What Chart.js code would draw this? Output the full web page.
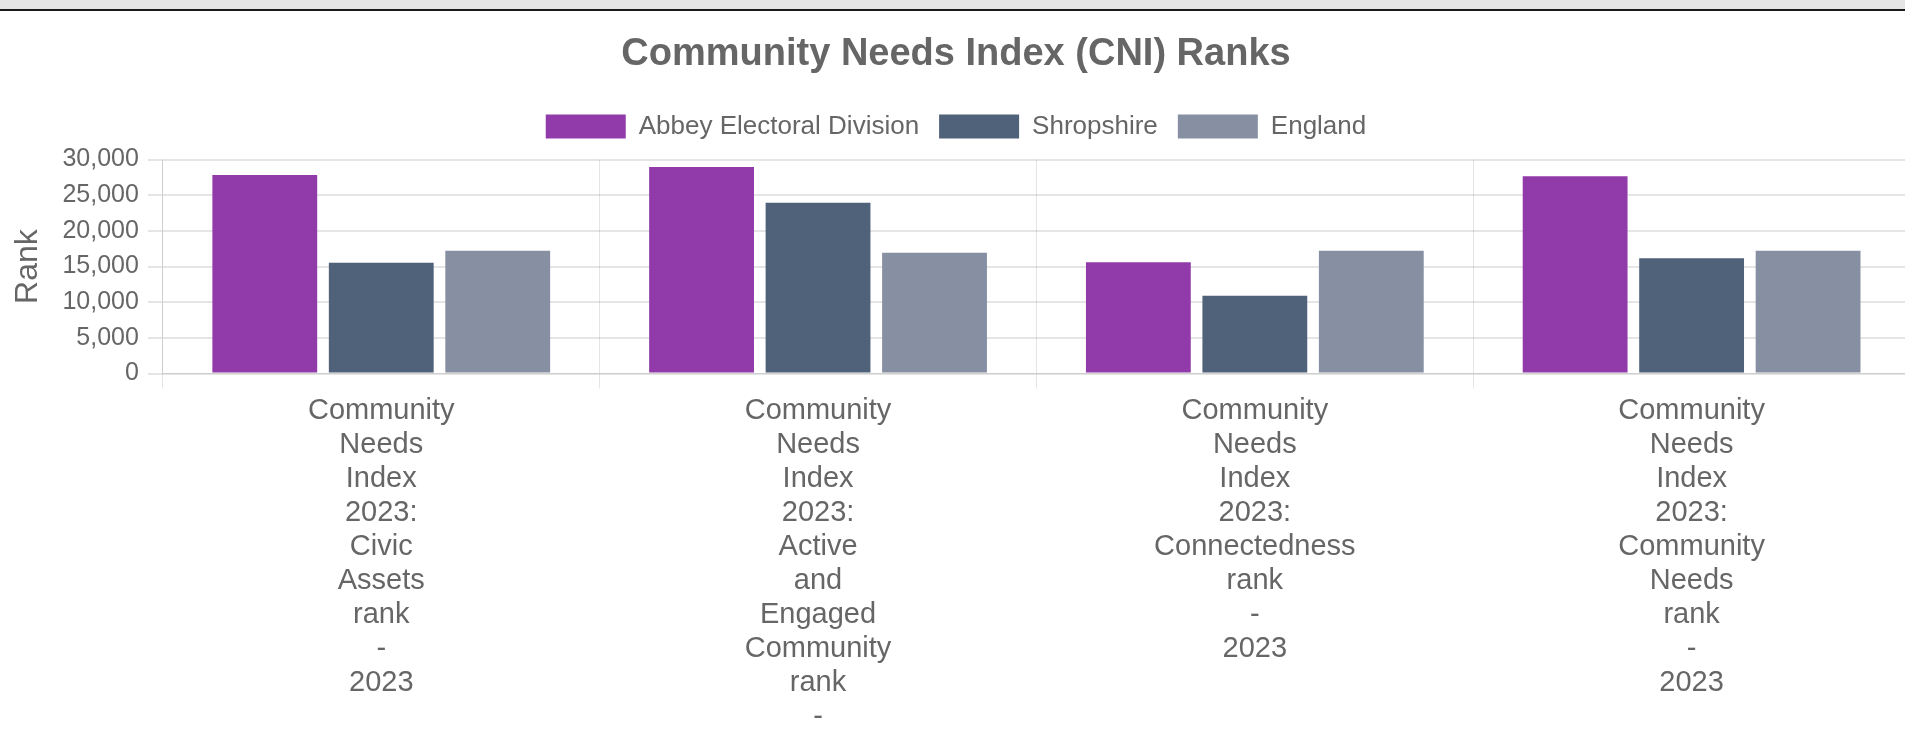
<!DOCTYPE html>
<html>
<head>
<meta charset="utf-8">
<script src="https://cdn.jsdelivr.net/npm/chart.js@4"></script>
<style>
  html, body { margin: 0; padding: 0; overflow: hidden; background: #fff; }
  #topbar { height: 9px; background: #e5e5e5; border-bottom: 2px solid #1a1a1a; }
  #wrap { position: absolute; left: 0; top: 11px; }
</style>
</head>
<body>
<div id="topbar"></div>
<div id="wrap"><canvas id="cni-chart" width="1912" height="725"></canvas></div>
<script>
const categories = [
  "Community Needs Index 2023: Civic Assets rank - 2023",
  "Community Needs Index 2023: Active and Engaged Community rank - 2023",
  "Community Needs Index 2023: Connectedness rank - 2023",
  "Community Needs Index 2023: Community Needs rank - 2023"
];
const abbeyValues = [27850, 28950, 15600, 27650];
const shropshireValues = [15550, 23950, 10900, 16150];
const englandValues = [17200, 16950, 17200, 17200];
const yTicks = [0, 5000, 10000, 15000, 20000, 25000, 30000];

const fontFamily = "'Liberation Sans', Arial, Helvetica, sans-serif";
Chart.defaults.font.family = fontFamily;
Chart.defaults.color = "#666";

// a bit more room under the legend
const legendGap = {
  id: "legendGap",
  beforeInit(chart) {
    const fit = chart.legend.fit;
    chart.legend.fit = function () {
      fit.bind(chart.legend)();
      this.height += 10;
    };
  }
};

const ctx = document.getElementById("cni-chart");

new Chart(ctx, {
  type: "bar",
  data: {
    // one word per line, like the original
    labels: categories.map((c) => c.split(" ")),
    datasets: [
      { label: "Abbey Electoral Division", data: abbeyValues, backgroundColor: "#913aaa" },
      { label: "Shropshire", data: shropshireValues, backgroundColor: "#50617a" },
      { label: "England", data: englandValues, backgroundColor: "#8690a2" }
    ]
  },
  plugins: [legendGap],
  options: {
    responsive: false,
    animation: false,
    layout: { padding: { left: 2, right: 2, top: 0, bottom: 0 } },
    plugins: {
      title: {
        display: true,
        text: "Community Needs Index (CNI) Ranks",
        color: "#666",
        font: { size: 38, weight: "bold" },
        padding: { top: 21, bottom: 16 }
      },
      legend: {
        labels: {
          boxWidth: 80,
          boxHeight: 24,
          padding: 20,
          font: { size: 26 }
        }
      },
      tooltip: { enabled: false }
    },
    scales: {
      x: {
        grid: { color: "rgba(0,0,0,0.1)", tickLength: 15 },
        ticks: {
          maxRotation: 0,
          autoSkip: false,
          padding: 5,
          font: { size: 29, lineHeight: 1.175 }
        }
      },
      y: {
        min: 0,
        max: yTicks[yTicks.length - 1],
        afterBuildTicks: (axis) => {
          axis.ticks = yTicks.map((v) => ({ value: v }));
        },
        grid: { color: "rgba(0,0,0,0.1)", lineWidth: 2, tickLength: 15 },
        ticks: {
          padding: 9,
          font: { size: 25 },
          callback: (v) => v.toLocaleString("en-US")
        },
        title: {
          display: true,
          text: "Rank",
          color: "#666",
          font: { size: 32 },
          padding: { top: 7, bottom: 6 }
        }
      }
    }
  }
});
</script>
</body>
</html>
